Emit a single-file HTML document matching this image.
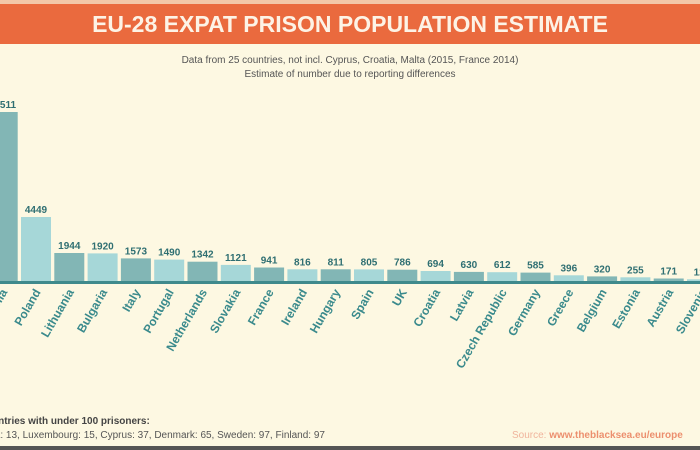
<!DOCTYPE html>
<html><head><meta charset="utf-8"><style>
html,body{margin:0;padding:0;}
body{width:700px;height:450px;overflow:hidden;background:#fdf8e2;font-family:"Liberation Sans",sans-serif;}
</style></head><body>
<svg width="700" height="450" xmlns="http://www.w3.org/2000/svg" style="display:block">
<rect x="0" y="0" width="700" height="450" fill="#fdf8e2"/>
<rect x="0" y="0" width="700" height="4" fill="#f3c7a8"/>
<rect x="0" y="4" width="700" height="40" fill="#ea6a3e"/>
<text x="350" y="32" text-anchor="middle" font-size="23" font-weight="bold" fill="#fdf3e6">EU-28 EXPAT PRISON POPULATION ESTIMATE</text>
<text x="350" y="63" text-anchor="middle" font-size="10" fill="#555">Data from 25 countries, not incl. Cyprus, Croatia, Malta (2015, France 2014)</text>
<text x="350" y="77" text-anchor="middle" font-size="10" fill="#555">Estimate of number due to reporting differences</text>
<g font-size="10" font-weight="bold">
<rect x="-12.3" y="112" width="30" height="169" fill="#82b6b5"/>
<rect x="21" y="217" width="30" height="64" fill="#a6d7d8"/>
<rect x="54.3" y="253" width="30" height="28" fill="#82b6b5"/>
<rect x="87.6" y="253.4" width="30" height="27.6" fill="#a6d7d8"/>
<rect x="120.9" y="258.4" width="30" height="22.6" fill="#82b6b5"/>
<rect x="154.2" y="259.6" width="30" height="21.4" fill="#a6d7d8"/>
<rect x="187.5" y="261.7" width="30" height="19.3" fill="#82b6b5"/>
<rect x="220.8" y="264.9" width="30" height="16.1" fill="#a6d7d8"/>
<rect x="254.1" y="267.5" width="30" height="13.5" fill="#82b6b5"/>
<rect x="287.4" y="269.3" width="30" height="11.7" fill="#a6d7d8"/>
<rect x="320.7" y="269.3" width="30" height="11.7" fill="#82b6b5"/>
<rect x="354" y="269.4" width="30" height="11.6" fill="#a6d7d8"/>
<rect x="387.3" y="269.7" width="30" height="11.3" fill="#82b6b5"/>
<rect x="420.6" y="271" width="30" height="10" fill="#a6d7d8"/>
<rect x="453.9" y="271.9" width="30" height="9.1" fill="#82b6b5"/>
<rect x="487.2" y="272.2" width="30" height="8.8" fill="#a6d7d8"/>
<rect x="520.5" y="272.6" width="30" height="8.4" fill="#82b6b5"/>
<rect x="553.8" y="275.3" width="30" height="5.7" fill="#a6d7d8"/>
<rect x="587.1" y="276.4" width="30" height="4.6" fill="#82b6b5"/>
<rect x="620.4" y="277.3" width="30" height="3.7" fill="#a6d7d8"/>
<rect x="653.7" y="278.5" width="30" height="2.5" fill="#82b6b5"/>
<rect x="687" y="279.3" width="30" height="1.7" fill="#a6d7d8"/>
<g fill="#2f6f72" text-anchor="middle">
<text x="2.7" y="108">11511</text>
<text x="36" y="213">4449</text>
<text x="69.3" y="249">1944</text>
<text x="102.6" y="249.4">1920</text>
<text x="135.9" y="254.4">1573</text>
<text x="169.2" y="255.6">1490</text>
<text x="202.5" y="257.7">1342</text>
<text x="235.8" y="260.9">1121</text>
<text x="269.1" y="263.5">941</text>
<text x="302.4" y="265.3">816</text>
<text x="335.7" y="265.3">811</text>
<text x="369" y="265.4">805</text>
<text x="402.3" y="265.7">786</text>
<text x="435.6" y="267">694</text>
<text x="468.9" y="267.9">630</text>
<text x="502.2" y="268.2">612</text>
<text x="535.5" y="268.6">585</text>
<text x="568.8" y="271.3">396</text>
<text x="602.1" y="272.4">320</text>
<text x="635.4" y="273.3">255</text>
<text x="668.7" y="274.5">171</text>
<text x="702" y="275.3">120</text>
</g>
</g>
<rect x="0" y="281" width="700" height="3" fill="#3f8a8c"/>
<g font-size="12" font-weight="bold" fill="#3a8a8c" text-anchor="end">
<text transform="translate(7.7,292) rotate(-60)">Romania</text>
<text transform="translate(41,292) rotate(-60)">Poland</text>
<text transform="translate(74.3,292) rotate(-60)">Lithuania</text>
<text transform="translate(107.6,292) rotate(-60)">Bulgaria</text>
<text transform="translate(140.9,292) rotate(-60)">Italy</text>
<text transform="translate(174.2,292) rotate(-60)">Portugal</text>
<text transform="translate(207.5,292) rotate(-60)">Netherlands</text>
<text transform="translate(240.8,292) rotate(-60)">Slovakia</text>
<text transform="translate(274.1,292) rotate(-60)">France</text>
<text transform="translate(307.4,292) rotate(-60)">Ireland</text>
<text transform="translate(340.7,292) rotate(-60)">Hungary</text>
<text transform="translate(374,292) rotate(-60)">Spain</text>
<text transform="translate(407.3,292) rotate(-60)">UK</text>
<text transform="translate(440.6,292) rotate(-60)">Croatia</text>
<text transform="translate(473.9,292) rotate(-60)">Latvia</text>
<text transform="translate(507.2,292) rotate(-60)">Czech Republic</text>
<text transform="translate(540.5,292) rotate(-60)">Germany</text>
<text transform="translate(573.8,292) rotate(-60)">Greece</text>
<text transform="translate(607.1,292) rotate(-60)">Belgium</text>
<text transform="translate(640.4,292) rotate(-60)">Estonia</text>
<text transform="translate(673.7,292) rotate(-60)">Austria</text>
<text transform="translate(707,292) rotate(-60)">Slovenia</text>
</g>
<text x="-8" y="424" font-size="10" font-weight="bold" fill="#444">untries with under 100 prisoners:</text>
<text x="-8" y="438" font-size="10" fill="#555">ta: 13, Luxembourg: 15, Cyprus: 37, Denmark: 65, Sweden: 97, Finland: 97</text>
<text x="512" y="438" font-size="10" fill="#f0b49c">Source: <tspan font-weight="bold" fill="#ec8f6e">www.theblacksea.eu/europe</tspan></text>
<rect x="0" y="446" width="700" height="4" fill="#555"/>
</svg>
</body></html>
